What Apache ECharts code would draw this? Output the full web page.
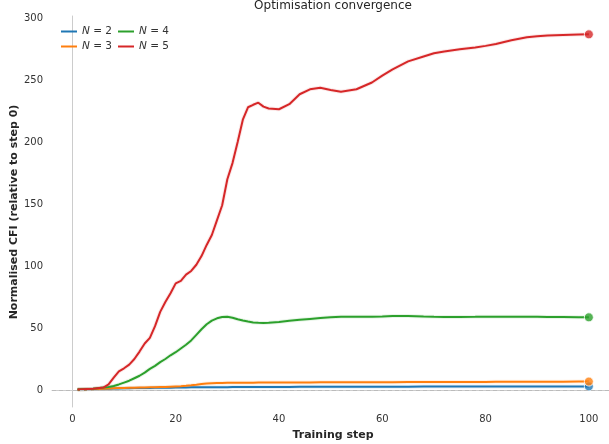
<!DOCTYPE html>
<html><head><meta charset="utf-8">
<script src="https://cdn.jsdelivr.net/npm/echarts@6/dist/echarts.min.js"></script>
<style>html,body{margin:0;padding:0;background:#fff}#c{width:609px;height:444px}</style>
</head><body><div id="c"></div>
<script>
var steps = [1,4,6,7,8,9,10,11,12,13,14,15,16,17,18,19,20,21,22,23,24,25,26,27,28,29,30,31,32,33,34,35,36,37,38,40,42,44,46,48,50,52,55,58,60,62,65,68,70,72,75,78,80,82,85,88,90,92,95,98,100];
var n2 = [0.5,0.8,1.0,1.1,1.2,1.3,1.4,1.5,1.55,1.6,1.65,1.7,1.75,1.8,1.85,1.9,2.0,2.05,2.1,2.15,2.2,2.2,2.25,2.25,2.3,2.3,2.3,2.35,2.35,2.4,2.4,2.4,2.45,2.45,2.45,2.5,2.5,2.55,2.55,2.6,2.6,2.6,2.65,2.65,2.7,2.7,2.7,2.75,2.75,2.75,2.8,2.8,2.8,2.8,2.85,2.85,2.85,2.85,2.9,2.9,2.9];
var n3 = [0.5,0.9,1.1,1.3,1.5,1.6,1.7,1.8,1.9,2.0,2.1,2.2,2.3,2.4,2.5,2.7,2.9,3.1,3.4,3.8,4.3,4.9,5.3,5.5,5.6,5.7,5.8,5.85,5.9,5.9,5.95,5.95,6.0,6.0,6.0,6.05,6.1,6.1,6.15,6.2,6.2,6.25,6.25,6.3,6.3,6.35,6.4,6.4,6.45,6.5,6.5,6.55,6.55,6.6,6.6,6.65,6.7,6.7,6.75,6.8,6.8];
var n4 = [0.5,1.0,2.0,2.5,3.2,4.5,6.0,7.5,9.5,11.5,14.0,17.0,19.5,22.5,25.0,28.0,30.5,33.5,36.5,40.0,44.5,49.0,53.0,56.0,57.8,58.8,59.0,58.3,57.0,56.0,55.2,54.5,54.2,54.0,54.2,54.8,55.8,56.6,57.3,58.0,58.7,59.1,59.0,59.0,59.2,59.6,59.6,59.2,59.0,58.9,58.9,59.0,59.1,59.1,59.1,59.0,59.0,58.9,58.8,58.6,58.6];
var n5 = [0.5,1.0,2.0,4.5,10.0,15.0,17.5,20.5,25.0,31.0,37.5,42.0,51.5,63.0,71.0,78.0,86.0,88.0,93.0,96.0,101.0,108.0,117.0,125.0,137.0,149.0,170.0,183.0,200.0,218.0,228.0,230.0,231.7,228.5,227.0,226.4,230.5,238.5,242.5,243.8,242.0,240.5,242.5,248.0,253.5,258.5,265.0,269.0,271.5,273.0,274.7,276.2,277.5,279.0,282.0,284.4,285.2,285.8,286.3,286.6,286.8];
var seriesNames = ['N = 2','N = 3','N = 4','N = 5'];
var seriesData = [n2,n3,n4,n5];
var colors = ['#1f77b4','#ff7f0e','#2ca02c','#d62728'];
var xTicks = [0,20,40,60,80,100];
var yTicks = [0,50,100,150,200,250,300];

var chart = echarts.init(document.getElementById('c'), null, {renderer:'canvas'});
var font = 'DejaVu Sans';
function pairs(arr){ return steps.map(function(s,i){ return [s, arr[i]]; }); }
var series = [];
seriesData.forEach(function(arr,k){
  series.push({type:'line', name:'band'+k, data:pairs(arr), showSymbol:false, silent:true,
    lineStyle:{color:colors[k], width:4, opacity:0.1}, z:1});
});
seriesData.forEach(function(arr,k){
  var s = {type:'line', name:seriesNames[k], data:pairs(arr), showSymbol:false,
    lineStyle:{color:colors[k], width:2}, itemStyle:{color:colors[k]}, z:3};
  if(k===0){
    s.markLine = {silent:true, symbol:'none', label:{show:false},
      lineStyle:{color:'#bbbbbb', type:[4,3], width:1}, data:[{yAxis:0}]};
  }
  series.push(s);
});
seriesData.forEach(function(arr,k){
  series.push({type:'scatter', name:'end'+k, data:[[steps[steps.length-1], arr[arr.length-1]]],
    symbolSize:9, itemStyle:{color:colors[k], borderColor:'#fff', borderWidth:1}, z:4});
});
function legendFmt(name){ return '{i|N} = ' + name.split('= ')[1]; }
var legendBase = {orient:'vertical', itemWidth:16, itemHeight:2, itemGap:4, icon:'rect', padding:0,
  textStyle:{fontFamily:font, fontSize:10.5, color:'#333', rich:{i:{fontStyle:'italic', fontFamily:font, fontSize:10.5, color:'#333'}}},
  formatter:legendFmt};
chart.setOption({
  animation:false,
  backgroundColor:'#fff',
  color:colors,
  textStyle:{fontFamily:font},
  graphic:[{type:'text', x:333, y:6, style:{text:'Optimisation convergence', fontFamily:font, fontSize:12, fill:'#262626', textAlign:'center', textVerticalAlign:'middle'}},
    {type:'text', x:14, y:212, rotation:Math.PI/2, style:{text:'Normalised CFI (relative to step 0)', fontFamily:font, fontSize:11, fontWeight:'bold', fill:'#262626', textAlign:'center', textVerticalAlign:'middle'}},
    {type:'text', x:333, y:435, style:{text:'Training step', fontFamily:font, fontSize:11, fontWeight:'bold', fill:'#262626', textAlign:'center', textVerticalAlign:'middle'}}],
  legend:[
    Object.assign({left:61, top:26, data:['N = 2','N = 3']}, legendBase),
    Object.assign({left:118, top:26, data:['N = 4','N = 5']}, legendBase)
  ],
  grid:{left:52, right:0, top:16, bottom:37},
  xAxis:{type:'value', min:-3.95, max:103.9,
    axisLine:{show:true, lineStyle:{color:'#cccccc', width:1}},
    axisTick:{show:false},
    splitLine:{show:false},
    axisLabel:{customValues:xTicks, color:'#333', fontFamily:font, fontSize:10, margin:7}},
  yAxis:{type:'value', min:-13.7, max:301.6,
    axisLine:{show:true, lineStyle:{color:'#cccccc', width:1}},
    axisTick:{show:false},
    splitLine:{show:false},
    axisLabel:{customValues:yTicks, color:'#333', fontFamily:font, fontSize:10, margin:9}},
  series:series
});
</script></body></html>
